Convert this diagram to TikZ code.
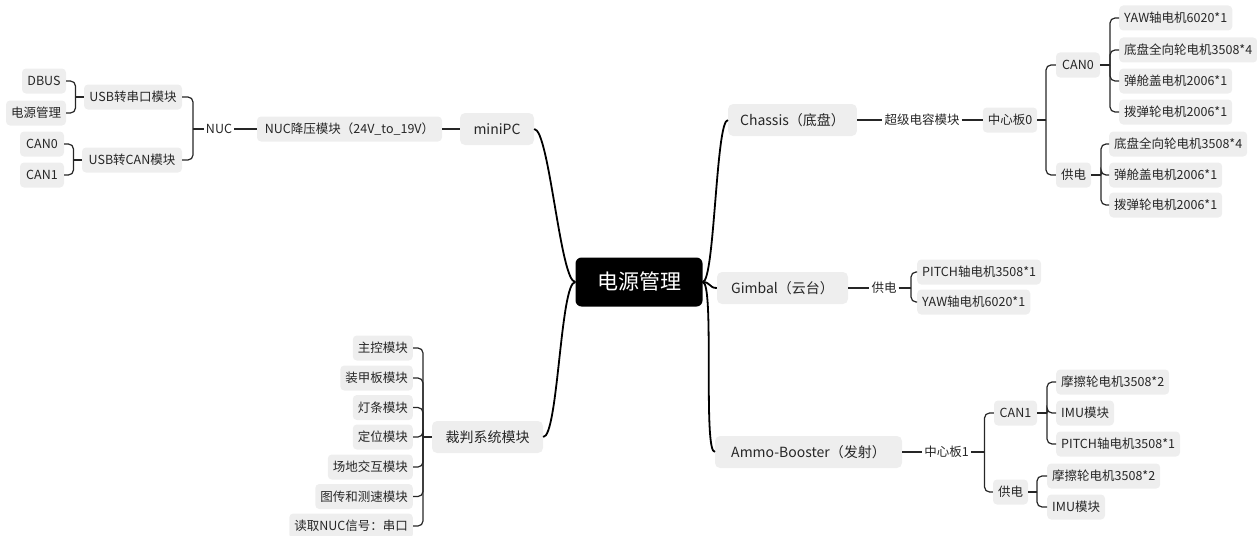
\documentclass[tikz,border=0pt]{standalone}
\usepackage{fontspec}
\setmainfont{Noto Sans CJK SC}
\usetikzlibrary{calc}
\definecolor{boxgray}{HTML}{EEEEEE}
\definecolor{ink}{HTML}{262626}
\begin{document}
\begin{tikzpicture}[x=1pt,y=-1pt,
  lf/.style={font=\fontsize{12.5}{14}\selectfont, text=ink, text height=10pt, text depth=0.6pt},
  box/.style={lf, fill=boxgray, rounded corners=4pt, minimum height=25pt, inner xsep=5pt, inner ysep=0pt},
  plain/.style={lf, inner xsep=2pt, inner ysep=0pt, minimum height=20pt},
  topic/.style={font=\fontsize{14}{16}\selectfont, text=ink, text height=11.5pt, text depth=1pt, fill=boxgray, rounded corners=5pt, minimum height=32pt, inner xsep=12pt, inner ysep=0pt},
  rootnode/.style={font=\fontsize{21}{24}\selectfont, fill=black, text=white, text height=17pt, text depth=1.2pt, rounded corners=6pt, minimum width=127pt, minimum height=49pt, inner sep=0pt},
  stub/.style={draw=ink, line width=1.2pt},
  elbow/.style={draw=ink, line width=1.2pt, rounded corners=5pt},
  mainline/.style={draw=black, line width=1.8pt},
]
\useasboundingbox (0,0) rectangle (1257,535);

% root
\node[rootnode] (root) at (639,282) {电源管理};

% ---------- left top ----------
\node[topic, minimum width=74pt] (minipc) at (497,129) {miniPC};
\node[box, minimum width=185pt] (nucdc) at (349.5,129) {NUC降压模块（24V\_to\_19V）};
\node[plain] (nuc) at (219,129) {NUC};
\node[box, minimum width=98pt] (usbser) at (133,97) {USB转串口模块};
\node[box, minimum width=100pt] (usbcan) at (132,160) {USB转CAN模块};
\node[box, minimum width=44pt] (dbus) at (44,81) {DBUS};
\node[box, minimum width=60pt] (pwr) at (36,113) {电源管理};
\node[box, minimum width=44pt] (lcan0) at (42,144) {CAN0};
\node[box, minimum width=44pt] (lcan1) at (42,175) {CAN1};
\coordinate (tnuc) at (193,0);
\coordinate (tser) at (75.5,0);
\coordinate (tcan) at (73.5,0);

% ---------- left bottom ----------
\node[topic, minimum width=111pt] (ref) at (487.5,437) {裁判系统模块};
\node[box, anchor=east] (r1) at (413,348) {主控模块};
\node[box, anchor=east] (r2) at (413,378) {装甲板模块};
\node[box, anchor=east] (r3) at (413,407.5) {灯条模块};
\node[box, anchor=east] (r4) at (413,437) {定位模块};
\node[box, anchor=east] (r5) at (413,467) {场地交互模块};
\node[box, anchor=east] (r6) at (413,496.5) {图传和测速模块};
\node[box, anchor=east] (r7) at (413,526) {读取NUC信号：串口};
\coordinate (tref) at (423,0);

% ---------- right: chassis ----------
\node[topic, minimum width=127pt] (chassis) at (792.5,120) {Chassis（底盘）};
\node[plain] (supercap) at (922,120) {超级电容模块};
\node[box, minimum width=54pt] (hub0) at (1010,120) {中心板0};
\node[box, minimum width=44pt] (can0) at (1078,65) {CAN0};
\node[box, minimum width=35pt] (pw0) at (1073.5,175) {供电};
\node[box, anchor=west] (c0a) at (1119,18) {YAW轴电机6020*1};
\node[box, anchor=west] (c0b) at (1119,50) {底盘全向轮电机3508*4};
\node[box, anchor=west] (c0c) at (1119,81) {弹舱盖电机2006*1};
\node[box, anchor=west] (c0d) at (1119,112) {拨弹轮电机2006*1};
\node[box, anchor=west] (p0a) at (1109,144) {底盘全向轮电机3508*4};
\node[box, anchor=west] (p0b) at (1109,175) {弹舱盖电机2006*1};
\node[box, anchor=west] (p0c) at (1109,205) {拨弹轮电机2006*1};
\coordinate (thub0) at (1046,0);
\coordinate (tcan0) at (1110,0);
\coordinate (tpw0) at (1101,0);

% ---------- right: gimbal ----------
\node[topic, minimum width=131pt] (gimbal) at (782.5,288) {Gimbal（云台）};
\node[plain] (pwg) at (884,288) {供电};
\node[box, anchor=west] (ga) at (917,272) {PITCH轴电机3508*1};
\node[box, anchor=west] (gb) at (917,302) {YAW轴电机6020*1};
\coordinate (tpwg) at (911,0);

% ---------- right: ammo ----------
\node[topic, minimum width=187pt] (ammo) at (808.5,452) {Ammo-Booster（发射）};
\node[plain] (hub1) at (946.5,452) {中心板1};
\node[box, minimum width=43pt] (can1) at (1015.5,413) {CAN1};
\node[box, minimum width=33pt] (pw1) at (1010.5,492) {供电};
\node[box, anchor=west] (c1a) at (1056,382) {摩擦轮电机3508*2};
\node[box, anchor=west] (c1b) at (1056,413) {IMU模块};
\node[box, anchor=west] (c1c) at (1056,444) {PITCH轴电机3508*1};
\node[box, anchor=west] (p1a) at (1047,476) {摩擦轮电机3508*2};
\node[box, anchor=west] (p1b) at (1047,507) {IMU模块};
\coordinate (thub1) at (984.5,0);
\coordinate (tcan1) at (1047,0);
\coordinate (tpw1) at (1037,0);

% ---------- main curves ----------
\draw[mainline] (root.west) .. controls +(-15,0) and +(15,0) .. (minipc.east);
\draw[mainline] (root.west) .. controls +(-15,0) and +(15,0) .. (ref.east);
\draw[mainline] (root.east) .. controls +(12,0) and +(-12,0) .. (chassis.west);
\draw[mainline] (root.east) .. controls +(8,0) and +(-8,0) .. (gimbal.west);
\draw[mainline] (root.east) .. controls +(12,0) and +(-12,0) .. (ammo.west);

% ---------- straight links ----------
\draw[stub] (minipc) -- (nucdc);
\draw[stub] (nucdc) -- (nuc);
\draw[stub] (chassis) -- (supercap);
\draw[stub] (supercap) -- (hub0);
\draw[stub] (gimbal) -- (pwg);
\draw[stub] (ammo) -- (hub1);

% ---------- brackets (left) ----------
\draw[stub] (nuc.west) -- (nuc.west -| tnuc);
\foreach \c in {usbser,usbcan} \draw[elbow] (nuc.west -| tnuc) |- (\c.east);
\draw[stub] (usbser.west) -- (usbser.west -| tser);
\foreach \c in {dbus,pwr} \draw[elbow] (usbser.west -| tser) |- (\c.east);
\draw[stub] (usbcan.west) -- (usbcan.west -| tcan);
\foreach \c in {lcan0,lcan1} \draw[elbow] (usbcan.west -| tcan) |- (\c.east);
\draw[stub] (ref.west) -- (ref.west -| tref);
\foreach \c in {r1,r2,r3,r4,r5,r6,r7} \draw[elbow] (ref.west -| tref) |- (\c.east);

% ---------- brackets (right) ----------
\draw[stub] (hub0.east) -- (hub0.east -| thub0);
\foreach \c in {can0,pw0} \draw[elbow] (hub0.east -| thub0) |- (\c.west);
\draw[stub] (can0.east) -- (can0.east -| tcan0);
\foreach \c in {c0a,c0b,c0c,c0d} \draw[elbow] (can0.east -| tcan0) |- (\c.west);
\draw[stub] (pw0.east) -- (pw0.east -| tpw0);
\foreach \c in {p0a,p0b,p0c} \draw[elbow] (pw0.east -| tpw0) |- (\c.west);
\draw[stub] (pwg.east) -- (pwg.east -| tpwg);
\foreach \c in {ga,gb} \draw[elbow] (pwg.east -| tpwg) |- (\c.west);
\draw[stub] (hub1.east) -- (hub1.east -| thub1);
\foreach \c in {can1,pw1} \draw[elbow] (hub1.east -| thub1) |- (\c.west);
\draw[stub] (can1.east) -- (can1.east -| tcan1);
\foreach \c in {c1a,c1b,c1c} \draw[elbow] (can1.east -| tcan1) |- (\c.west);
\draw[stub] (pw1.east) -- (pw1.east -| tpw1);
\foreach \c in {p1a,p1b} \draw[elbow] (pw1.east -| tpw1) |- (\c.west);
\end{tikzpicture}
\end{document}
